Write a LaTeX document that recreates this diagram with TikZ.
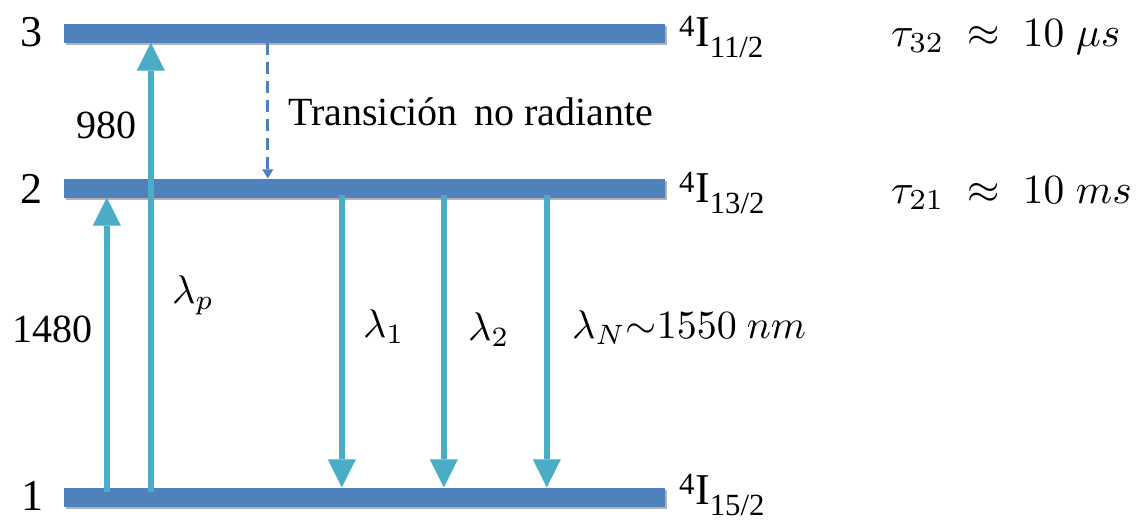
\documentclass[tikz,border=0pt]{standalone}
\usepackage{graphicx}
\usepackage{fontspec}
\setmainfont{Liberation Serif}
\usetikzlibrary{arrows.meta,shadows}
\definecolor{barblue}{HTML}{4F81BD}
\definecolor{aqua}{HTML}{4BACC6}
\newcommand{\bigmath}[1]{\scalebox{4}{$#1$}}
\newcommand{\taumath}[1]{\scalebox{4.15}{$#1$}}
\begin{document}
\begin{tikzpicture}[x=1pt,y=-1pt,
  bar/.style={fill=barblue,draw=none,minimum width=601pt,minimum height=19pt,inner sep=0pt,
    drop shadow={shadow xshift=1.5pt,shadow yshift=-2pt,opacity=0.3,fill=black}},
  ray/.style={draw=aqua,line width=6pt,-{Triangle[width=28pt,length=28pt,line width=0.01pt]}},
  relax/.style={draw=barblue,line width=3pt,dash pattern=on 12pt off 7pt,
    -{Triangle[width=11pt,length=9pt,line width=0.01pt]}},
  lvnum/.style={anchor=base,inner sep=0pt,font=\fontsize{44}{50}\selectfont},
  term/.style={anchor=base west,inner sep=0pt,font=\fontsize{44}{50}\selectfont},
  txt/.style={inner sep=0pt,font=\fontsize{40}{46}\selectfont},
  mth/.style={inner sep=0pt,anchor=base west}]
\useasboundingbox (0,0) rectangle (1138,520);
% levels
\node[bar] (lev3) at (364.5,33) {};
\node[bar] (lev2) at (364.5,188) {};
\node[bar] (lev1) at (364.5,497) {};
% level numbers
\node[lvnum] (n3) at (31,46) {3};
\node[lvnum] (n2) at (31,203) {2};
\node[lvnum] (n1) at (32,510) {1};
% term symbols
\node[term] (t3) at (679,46) {\textsuperscript{4}I\textsubscript{11/2}};
\node[term] (t2) at (679,202) {\textsuperscript{4}I\textsubscript{13/2}};
\node[term] (t1) at (679,504) {\textsuperscript{4}I\textsubscript{15/2}};
% lifetimes
\node[mth] (tau32) at (891,46) {\taumath{\tau_{32}\;\approx\;10\;\mu s}};
\node[mth] (tau21) at (891,203) {\taumath{\tau_{21}\;\approx\;10\;ms}};
% pump arrows
\draw[ray] ([xshift=43pt,yshift=-5pt]lev1.north west) -- ([xshift=43pt]lev2.south west);
\draw[ray] ([xshift=87pt,yshift=-5pt]lev1.north west) -- ([xshift=87pt]lev3.south west);
% emission arrows
\draw[ray] ([xshift=278pt,yshift=3pt]lev2.south west) -- ([xshift=278pt]lev1.north west);
\draw[ray] ([xshift=380pt,yshift=3pt]lev2.south west) -- ([xshift=380pt]lev1.north west);
\draw[ray] ([xshift=483pt,yshift=3pt]lev2.south west) -- ([xshift=483pt]lev1.north west);
% non radiative
\draw[relax] ([xshift=204pt]lev3.south west) -- ([xshift=204pt]lev2.north west);
% labels
\node[txt,anchor=base] (l980) at (106,138) {980};
\node[txt,anchor=base west] (lnr) at (288,125) {Transición\, no radiante};
\node[txt,anchor=base west] (l1480) at (12,342) {1480};
\node[mth] (lp) at (172,303) {\bigmath{\lambda_p}};
\node[mth] (l1) at (363,337) {\bigmath{\lambda_1}};
\node[mth] (l2) at (468,340) {\bigmath{\lambda_2}};
\node[mth] (lN) at (572,338) {\bigmath{\lambda_N{\sim}1550\ nm}};
\end{tikzpicture}
\end{document}
